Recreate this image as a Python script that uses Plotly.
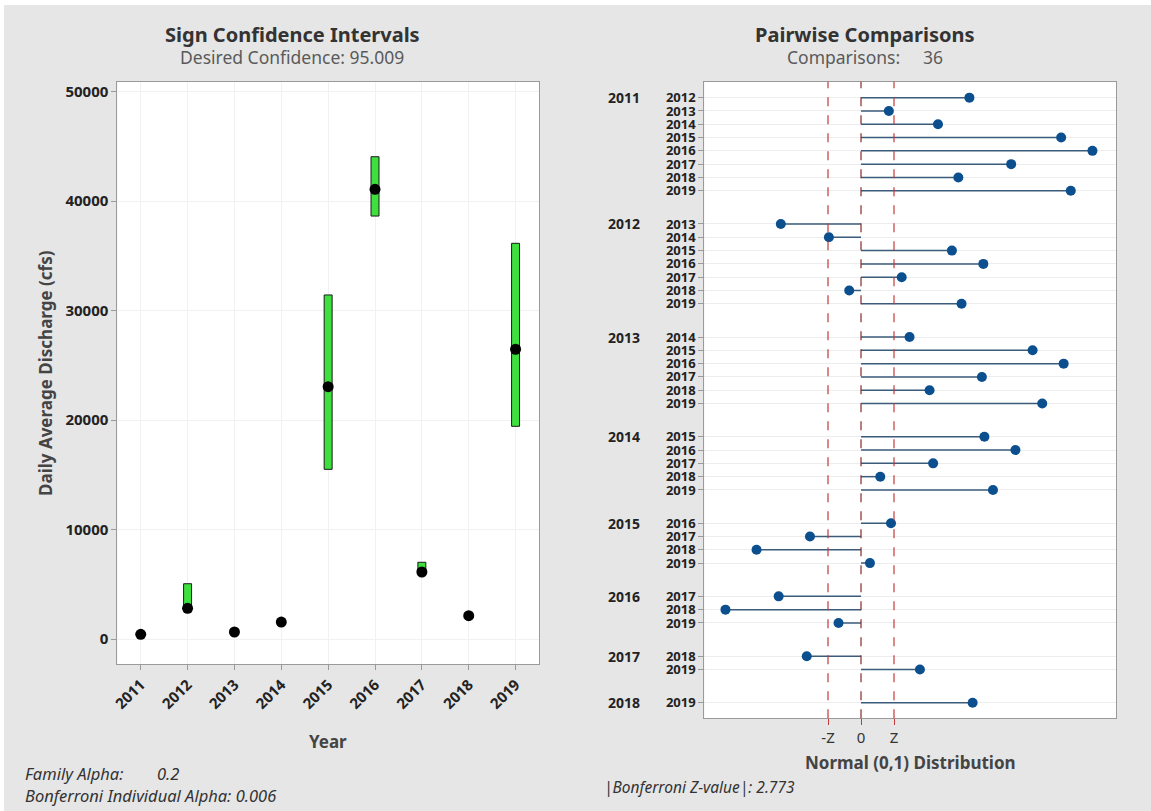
import plotly.graph_objects as go

# ---------------- data ----------------
years = ["2011", "2012", "2013", "2014", "2015", "2016", "2017", "2018", "2019"]
median = [430, 2800, 640, 1550, 23050, 41080, 6120, 2130, 26470]
ci_low = [300, 2500, 520, 1420, 15500, 38640, 5850, 1950, 19430]
ci_high = [520, 5050, 720, 1650, 31430, 44060, 7010, 2280, 36150]
y_ticks = [0, 10000, 20000, 30000, 40000, 50000]

first_year = (["2011"] * 8 + ["2012"] * 7 + ["2013"] * 6 + ["2014"] * 5
              + ["2015"] * 4 + ["2016"] * 3 + ["2017"] * 2 + ["2018"])
second_year = (["2012", "2013", "2014", "2015", "2016", "2017", "2018", "2019"]
               + ["2013", "2014", "2015", "2016", "2017", "2018", "2019"]
               + ["2014", "2015", "2016", "2017", "2018", "2019"]
               + ["2015", "2016", "2017", "2018", "2019"]
               + ["2016", "2017", "2018", "2019"]
               + ["2017", "2018", "2019"]
               + ["2018", "2019"]
               + ["2019"])
z_value = [9.11, 2.34, 6.47, 16.82, 19.45, 12.62, 8.18, 17.63,
           -6.74, -2.70, 7.64, 10.28, 3.42, -0.99, 8.45,
           4.08, 14.42, 17.03, 10.16, 5.76, 15.23,
           10.37, 12.98, 6.06, 1.62, 11.09,
           2.52, -4.29, -8.78, 0.75,
           -6.92, -11.39, -1.89,
           -4.56, 4.95,
           9.38]
z_crit = 2.773
z_labels = ["-Z", "0", "Z"]

# ---------------- layout helpers ----------------
W, H = 1151, 811
def px(x):
    return x / W
def py(y):
    return (H - y) / H

FONT = "Noto Sans, Open Sans, sans-serif"

# row positions on the comparison axis (blank gap between groups)
pos = []
gi = -1
prev = None
for i, f in enumerate(first_year):
    if f != prev:
        gi += 1
        prev = f
    pos.append(i + 1.5 * gi)

fig = go.Figure()

# ---- left: sign confidence intervals ----
fig.add_trace(go.Bar(
    x=years, y=[h - l for h, l in zip(ci_high, ci_low)], base=ci_low,
    width=0.17, marker=dict(color="#3ee03e", line=dict(color="#1a1a1a", width=1)),
    xaxis="x", yaxis="y", hoverinfo="skip"))
fig.add_trace(go.Scatter(
    x=years, y=median, mode="markers",
    marker=dict(color="black", size=11), xaxis="x", yaxis="y"))

# ---- right: pairwise comparisons ----
lx, ly = [], []
for z, p in zip(z_value, pos):
    lx += [0, z, None]
    ly += [p, p, None]
fig.add_trace(go.Scatter(
    x=lx, y=ly, mode="lines", line=dict(color="#3b5b7a", width=1.5),
    xaxis="x2", yaxis="y2", hoverinfo="skip"))
fig.add_trace(go.Scatter(
    x=z_value, y=pos, mode="markers",
    marker=dict(color="#0b4f8f", size=10), xaxis="x2", yaxis="y2"))

shapes = []
for xv, col in [(-z_crit, "#c23a3a"), (0, "#8a2a2a"), (z_crit, "#c23a3a")]:
    shapes.append(dict(type="line", xref="x2", yref="y2 domain",
                       x0=xv, x1=xv, y0=0, y1=1,
                       line=dict(color=col, width=1.2, dash="dash")))
# white edge strips of the screenshot
shapes.append(dict(type="rect", xref="paper", yref="paper", x0=0, x1=1,
                   y0=py(5), y1=1, fillcolor="white", line=dict(width=0), layer="below"))
shapes.append(dict(type="rect", xref="paper", yref="paper", x0=0, x1=px(4),
                   y0=0, y1=1, fillcolor="white", line=dict(width=0), layer="below"))

annotations = []
def ann(text, x, y, size, color="#333", weight="normal", style="normal",
        xanchor="center", xref="paper", yref="paper", textangle=0):
    annotations.append(dict(
        text=text, x=x, y=y, xref=xref, yref=yref, showarrow=False,
        xanchor=xanchor, yanchor="middle", textangle=textangle,
        font=dict(family=FONT, size=size, color=color, weight=weight, style=style)))

ann("Sign Confidence Intervals", px(292), py(35), 20, "#333", "bold")
ann("Desired Confidence: 95.009", px(292), py(57), 17.5, "#5a5a5a")
ann("Pairwise Comparisons", px(865), py(35), 20, "#333", "bold")
ann("Comparisons:\u00a0\u00a0\u00a0\u00a0\u00a036", px(865), py(57), 17.5, "#5a5a5a")
ann("Year", px(328), py(741), 17, "#444", "bold")
ann("Daily Average Discharge (cfs)", px(45), py(373), 17, "#444", "bold", textangle=-90)
ann("Normal (0,1) Distribution", px(910), py(762), 17, "#444", "bold")
ann("Family Alpha:", px(23), py(773), 16.5, "#333", style="italic", xanchor="left")
ann("0.2", px(155), py(773), 16.5, "#333", style="italic", xanchor="left")
ann("Bonferroni Individual Alpha: 0.006", px(23), py(795), 16.5, "#333",
    style="italic", xanchor="left")
ann("|Bonferroni Z-value|: 2.773", px(602), py(787), 15.5, "#333",
    style="italic", xanchor="left")

# group labels for the comparisons
seen = set()
for f, p in zip(first_year, pos):
    if f not in seen:
        seen.add(f)
        annotations.append(dict(
            text=f, x=px(624), y=p, xref="paper", yref="y2", showarrow=False,
            xanchor="center", yanchor="middle",
            font=dict(family=FONT, size=14, color="#222", weight="bold")))

fig.update_layout(
    width=W, height=H, margin=dict(l=0, r=0, t=0, b=0),
    paper_bgcolor="#e6e6e6", plot_bgcolor="white",
    showlegend=False, shapes=shapes, annotations=annotations,
    xaxis=dict(domain=[px(117.3), px(539)], anchor="y", type="category",
               range=[-0.5, 8.5], tickangle=-45,
               tickfont=dict(family=FONT, size=15, color="#222", weight="bold"),
               showgrid=True, gridcolor="#f1f1f1", showline=True,
               linecolor="#9a9a9a", mirror=True, ticks="outside",
               ticklen=5, tickcolor="#9a9a9a", automargin=False),
    yaxis=dict(domain=[py(664), py(81.7)], anchor="x", range=[-2284, 50914],
               tickvals=y_ticks, tickformat="d",
               tickfont=dict(family=FONT, size=15, color="#222", weight="bold"),
               showgrid=True, gridcolor="#f1f1f1", zeroline=False,
               showline=True, linecolor="#9a9a9a", mirror=True,
               ticks="outside", ticklen=5, tickcolor="#9a9a9a", automargin=False),
    xaxis2=dict(domain=[px(704.3), px(1116)], anchor="y2", range=[-13.17, 21.43],
                tickvals=[-z_crit, 0, z_crit], ticktext=z_labels,
                tickfont=dict(family=FONT, size=15, color="#333"),
                showgrid=False, zeroline=False, showline=True,
                linecolor="#9a9a9a", mirror=True, ticks="outside",
                ticklen=6, tickcolor="#c23a3a", automargin=False),
    yaxis2=dict(domain=[py(718.3), py(81.7)], anchor="x2", range=[46.67, -1.2],
                tickvals=pos, ticktext=second_year,
                tickfont=dict(family=FONT, size=13, color="#222", weight="bold"),
                showgrid=True, gridcolor="#ededed", zeroline=False,
                showline=True, linecolor="#9a9a9a", mirror=True,
                ticks="outside", ticklen=5, tickcolor="#9a9a9a", automargin=False),
)

fig.write_html("out.html")
